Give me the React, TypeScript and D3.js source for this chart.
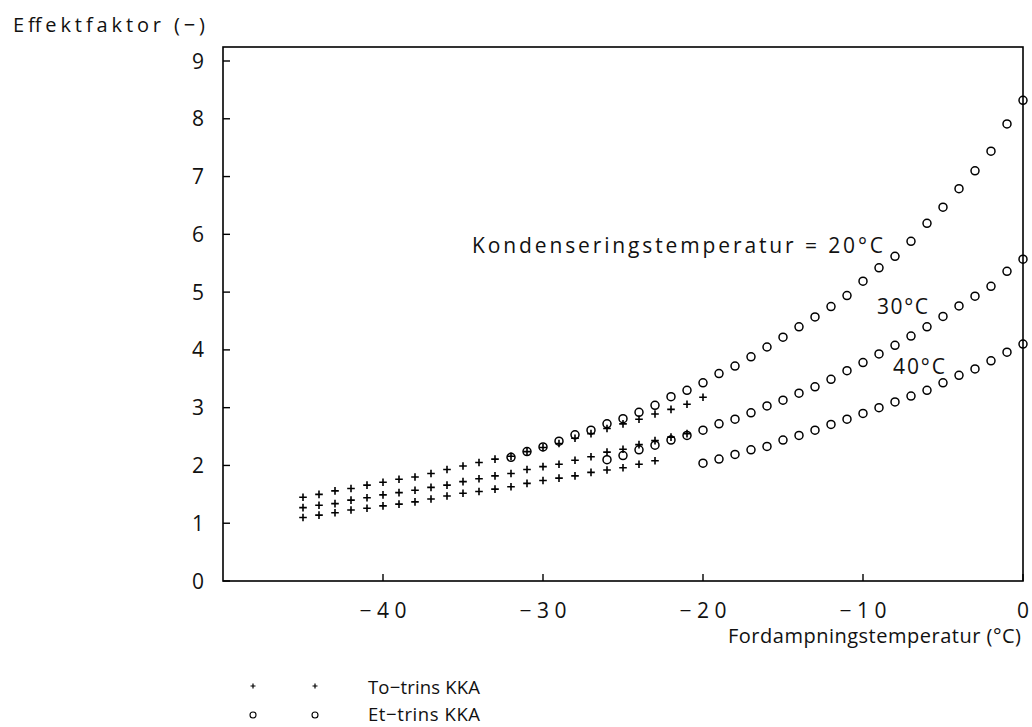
import React from "react";
import * as d3 from "d3";

// ---------- data ----------
// To-trins KKA (two-stage), plus markers
const toTrins20Temps = [-45, -44, -43, -42, -41, -40, -39, -38, -37, -36, -35, -34, -33, -32, -31, -30, -29, -28, -27, -26, -25, -24, -23, -22, -21, -20];
const toTrins20Values = [1.45, 1.5, 1.56, 1.6, 1.66, 1.71, 1.76, 1.8, 1.86, 1.93, 1.99, 2.05, 2.11, 2.16, 2.24, 2.31, 2.38, 2.47, 2.55, 2.64, 2.72, 2.8, 2.89, 2.97, 3.06, 3.18];

const toTrins30Temps = [-45, -44, -43, -42, -41, -40, -39, -38, -37, -36, -35, -34, -33, -32, -31, -30, -29, -28, -27, -26, -25, -24, -23, -22, -21];
const toTrins30Values = [1.27, 1.31, 1.34, 1.4, 1.44, 1.49, 1.53, 1.57, 1.62, 1.66, 1.72, 1.77, 1.82, 1.86, 1.93, 1.98, 2.02, 2.09, 2.15, 2.23, 2.28, 2.36, 2.43, 2.49, 2.55];

const toTrins40Temps = [-45, -44, -43, -42, -41, -40, -39, -38, -37, -36, -35, -34, -33, -32, -31, -30, -29, -28, -27, -26, -25, -24, -23];
const toTrins40Values = [1.1, 1.14, 1.18, 1.23, 1.26, 1.3, 1.33, 1.37, 1.42, 1.47, 1.52, 1.55, 1.59, 1.63, 1.69, 1.74, 1.78, 1.82, 1.88, 1.92, 1.96, 2.02, 2.08];

// Et-trins KKA (single-stage), circle markers
const etTrins20Temps = [-32, -31, -30, -29, -28, -27, -26, -25, -24, -23, -22, -21, -20, -19, -18, -17, -16, -15, -14, -13, -12, -11, -10, -9, -8, -7, -6, -5, -4, -3, -2, -1, 0];
const etTrins20Values = [2.14, 2.24, 2.32, 2.42, 2.53, 2.61, 2.72, 2.81, 2.92, 3.04, 3.19, 3.3, 3.43, 3.59, 3.72, 3.88, 4.05, 4.22, 4.4, 4.57, 4.75, 4.94, 5.19, 5.42, 5.62, 5.88, 6.19, 6.47, 6.79, 7.1, 7.44, 7.91, 8.32];

const etTrins30Temps = [-26, -25, -24, -23, -22, -21, -20, -19, -18, -17, -16, -15, -14, -13, -12, -11, -10, -9, -8, -7, -6, -5, -4, -3, -2, -1, 0];
const etTrins30Values = [2.1, 2.17, 2.27, 2.35, 2.44, 2.52, 2.61, 2.72, 2.8, 2.91, 3.03, 3.13, 3.25, 3.36, 3.49, 3.64, 3.78, 3.93, 4.08, 4.24, 4.4, 4.58, 4.76, 4.93, 5.1, 5.36, 5.57];

const etTrins40Temps = [-20, -19, -18, -17, -16, -15, -14, -13, -12, -11, -10, -9, -8, -7, -6, -5, -4, -3, -2, -1, 0];
const etTrins40Values = [2.04, 2.11, 2.19, 2.27, 2.33, 2.44, 2.52, 2.61, 2.71, 2.8, 2.9, 3.0, 3.1, 3.2, 3.3, 3.43, 3.56, 3.67, 3.81, 3.96, 4.1];

const yTicks = [0, 1, 2, 3, 4, 5, 6, 7, 8, 9];
const yTickLabels = ["0", "1", "2", "3", "4", "5", "6", "7", "8", "9"];
const xTicks = [-40, -30, -20, -10, 0];
const xTickLabels = ["\u221240", "\u221230", "\u221220", "\u221210", "0"];

const yAxisTitle = "Effektfaktor (\u2212)";
const xAxisTitle = "Fordampningstemperatur (\u00B0C)";
const legendLabels = ["To\u2212trins KKA", "Et\u2212trins KKA"];
const curveLabels = ["Kondenseringstemperatur = 20\u00B0C", "30\u00B0C", "40\u00B0C"];

// ---------- layout ----------
const W = 1032;
const H = 727;
const left = 223;
const right = 1023;
const top = 47;
const bottom = 581;

const FONT = "'Open Sans', 'DejaVu Sans', sans-serif";

function zip(t: number[], v: number[]) {
  return t.map((x, i) => ({ x, y: v[i] }));
}

const Plus = ({ cx, cy, s = 3.8, w = 1.6 }: { cx: number; cy: number; s?: number; w?: number }) => (
  <path d={`M${cx - s},${cy}H${cx + s}M${cx},${cy - s}V${cy + s}`} stroke="#000" strokeWidth={w} fill="none" />
);

export default function App() {
  const x = d3.scaleLinear().domain([-50, 0]).range([left, right]);
  const y = d3.scaleLinear().domain([0, 9]).range([bottom, 61]);

  const plusSeries = [
    zip(toTrins20Temps, toTrins20Values),
    zip(toTrins30Temps, toTrins30Values),
    zip(toTrins40Temps, toTrins40Values),
  ];
  const circleSeries = [
    zip(etTrins20Temps, etTrins20Values),
    zip(etTrins30Temps, etTrins30Values),
    zip(etTrins40Temps, etTrins40Values),
  ];

  const textStyle = { fontFamily: FONT, fontWeight: 400, fill: "#111" } as React.CSSProperties;

  return (
    <svg width={W} height={H} style={{ position: "absolute", left: 0, top: 0, background: "#fff" }}>
      <rect x={0} y={0} width={W} height={H} fill="#fff" />
      {/* frame */}
      <rect x={left} y={top} width={right - left} height={bottom - top} fill="none" stroke="#000" strokeWidth={1.6} />

      {/* y ticks */}
      {yTicks.map((t, i) => (
        <g key={"yt" + i}>
          <line x1={left} x2={left + 7} y1={y(t)} y2={y(t)} stroke="#000" strokeWidth={1.4} />
          <text x={204} y={y(t) + 7.5} textAnchor="end" fontSize={21} style={textStyle}>
            {yTickLabels[i]}
          </text>
        </g>
      ))}

      {/* x ticks */}
      {xTicks.map((t, i) => (
        <g key={"xt" + i}>
          <line x1={x(t)} x2={x(t)} y1={bottom} y2={bottom - 7} stroke="#000" strokeWidth={1.4} />
          <text x={x(t)} y={618} textAnchor="middle" fontSize={21} style={textStyle} textLength={i < 4 ? 47 : undefined} lengthAdjust="spacing">
            {xTickLabels[i]}
          </text>
        </g>
      ))}

      {/* axis titles */}
      <text x={13} y={32} fontSize={20} style={textStyle} textLength={192} lengthAdjust="spacing">
        {yAxisTitle}
      </text>
      <text x={1021} y={643} textAnchor="end" fontSize={20} style={textStyle} textLength={293} lengthAdjust="spacing">
        {xAxisTitle}
      </text>

      {/* curve labels */}
      <text x={472} y={253} fontSize={21} style={textStyle} textLength={411} lengthAdjust="spacing">
        {curveLabels[0]}
      </text>
      <text x={877} y={314} fontSize={21} style={textStyle} textLength={51} lengthAdjust="spacing">
        {curveLabels[1]}
      </text>
      <text x={893} y={374} fontSize={21} style={textStyle} textLength={52} lengthAdjust="spacing">
        {curveLabels[2]}
      </text>

      {/* circle markers */}
      {circleSeries.map((s, si) =>
        s.map((d, i) => (
          <circle key={`c${si}-${i}`} cx={x(d.x)} cy={y(d.y)} r={4} fill="none" stroke="#000" strokeWidth={1.5} />
        ))
      )}
      {/* plus markers */}
      {plusSeries.map((s, si) =>
        s.map((d, i) => <Plus key={`p${si}-${i}`} cx={x(d.x)} cy={y(d.y)} />)
      )}

      {/* legend */}
      <Plus cx={253} cy={686} s={2.5} w={1.2} />
      <Plus cx={315} cy={686} s={2.5} w={1.2} />
      <text x={368} y={694} fontSize={18.5} style={textStyle} textLength={112} lengthAdjust="spacing">
        {legendLabels[0]}
      </text>
      <circle cx={253} cy={715} r={3} fill="none" stroke="#000" strokeWidth={1.1} />
      <circle cx={315} cy={715} r={3} fill="none" stroke="#000" strokeWidth={1.1} />
      <text x={368} y={721} fontSize={18.5} style={textStyle} textLength={112} lengthAdjust="spacing">
        {legendLabels[1]}
      </text>
    </svg>
  );
}
